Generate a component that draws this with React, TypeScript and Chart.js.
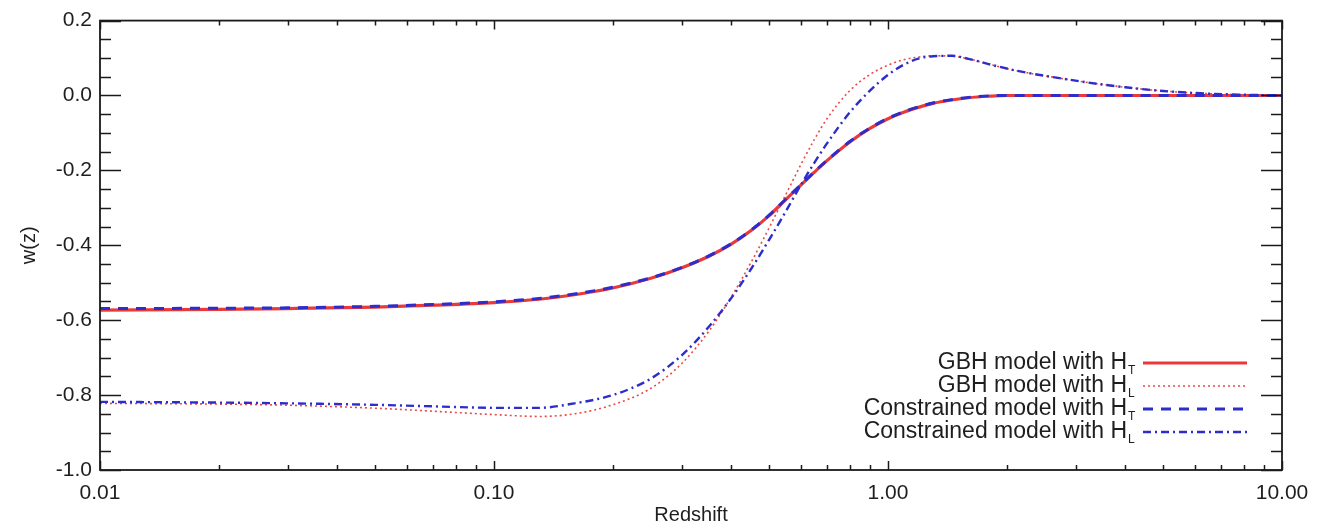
import React, { useEffect, useRef } from "react";
import { Chart, registerables } from "chart.js";

Chart.register(...registerables);

// ---- data ----
const redshift = [0.01, 0.02, 0.03, 0.05, 0.07, 0.1, 0.13, 0.16, 0.2, 0.25, 0.3, 0.35, 0.4, 0.45, 0.5, 0.55, 0.6, 0.65, 0.7, 0.8, 0.9, 1.0, 1.1, 1.2, 1.3, 1.45, 1.6, 1.8, 2.0, 2.3, 2.7, 3.2, 4.0, 5.0, 6.5, 8.0, 10.0];

const gbhHT = [-0.573, -0.571, -0.569, -0.565, -0.56, -0.553, -0.544, -0.532, -0.514, -0.488, -0.46, -0.43, -0.397, -0.36, -0.32, -0.278, -0.24, -0.205, -0.174, -0.124, -0.088, -0.062, -0.044, -0.031, -0.021, -0.012, -0.006, -0.002, 0.0, 0.0, 0.0, 0.0, 0.0, 0.0, 0.0, 0.0, 0.0];

const gbhHL = [-0.822, -0.824, -0.827, -0.835, -0.843, -0.852, -0.857, -0.85, -0.826, -0.782, -0.715, -0.631, -0.538, -0.444, -0.352, -0.265, -0.186, -0.118, -0.062, 0.013, 0.056, 0.081, 0.096, 0.103, 0.106, 0.105, 0.098, 0.084, 0.072, 0.059, 0.047, 0.035, 0.022, 0.012, 0.005, 0.002, 0.0];

const conHT = [-0.569, -0.568, -0.567, -0.563, -0.558, -0.551, -0.542, -0.53, -0.512, -0.487, -0.459, -0.429, -0.396, -0.359, -0.319, -0.277, -0.239, -0.204, -0.173, -0.123, -0.087, -0.061, -0.043, -0.03, -0.02, -0.011, -0.005, -0.001, 0.0, 0.0, 0.0, 0.0, 0.0, 0.0, 0.0, 0.0, 0.0];

const conHL = [-0.818, -0.82, -0.822, -0.826, -0.83, -0.834, -0.834, -0.822, -0.8, -0.756, -0.693, -0.619, -0.541, -0.462, -0.384, -0.31, -0.24, -0.18, -0.128, -0.045, 0.013, 0.055, 0.083, 0.099, 0.105, 0.106, 0.098, 0.084, 0.072, 0.059, 0.047, 0.035, 0.022, 0.012, 0.005, 0.002, 0.0];

const xTickValues = [0.01, 0.1, 1, 10];
const yTickValues = [-1.0, -0.8, -0.6, -0.4, -0.2, 0.0, 0.2];
const legendLabels = ["GBH model with H", "GBH model with H", "Constrained model with H", "Constrained model with H"];
const legendSubs = ["T", "L", "T", "L"];

const FONT = '"Liberation Sans", Arial, Helvetica, sans-serif';
const TEXT = "#1e1e1e";

const toPoints = (ys: number[]) => redshift.map((x, i) => ({ x, y: ys[i] }));

const framePlugin = {
  id: "frameTicks",
  afterDatasetsDraw(chart: any) {
    const { ctx, chartArea: a, scales } = chart;
    const xs = scales.x;
    const ys = scales.y;
    ctx.save();
    ctx.strokeStyle = "#1a1a1a";
    ctx.lineWidth = 1.8;
    ctx.setLineDash([]);
    ctx.strokeRect(a.left, a.top, a.right - a.left, a.bottom - a.top);
    ctx.lineWidth = 1.5;
    ctx.beginPath();
    const yMin = ys.min;
    const yMax = ys.max;
    for (let k = 0; k <= Math.round((yMax - yMin) / 0.05); k++) {
      const v = yMin + k * 0.05;
      const major = k % 4 === 0;
      const len = major ? 21 : 11;
      const py = Math.round(ys.getPixelForValue(v)) + 0.5;
      ctx.moveTo(a.left, py);
      ctx.lineTo(a.left + len, py);
      ctx.moveTo(a.right, py);
      ctx.lineTo(a.right - len, py);
    }
    for (let d = 0; d < xTickValues.length; d++) {
      const base = xTickValues[d];
      for (let m = 1; m <= 9; m++) {
        const v = base * m;
        if (v > xs.max * 1.0001) break;
        const major = m === 1;
        const len = major ? 9 : 5;
        const px = Math.round(xs.getPixelForValue(v)) + 0.5;
        ctx.moveTo(px, a.bottom);
        ctx.lineTo(px, a.bottom - len);
        ctx.moveTo(px, a.top);
        ctx.lineTo(px, a.top + len);
      }
    }
    ctx.stroke();
    ctx.restore();
  },
};

const legendPlugin = {
  id: "customLegend",
  afterDraw(chart: any) {
    const { ctx } = chart;
    const textRight = 1127;
    const lineStart = 1143;
    const lineEnd = 1247;
    const top = 363;
    const gap = 23;
    ctx.save();
    legendLabels.forEach((label, i) => {
      const ds = chart.data.datasets[i];
      const y = top + i * gap;
      ctx.fillStyle = TEXT;
      ctx.font = `23px ${FONT}`;
      ctx.textAlign = "right";
      ctx.textBaseline = "middle";
      ctx.fillText(label, textRight, y);
      ctx.font = `12px ${FONT}`;
      ctx.textAlign = "left";
      ctx.fillText(legendSubs[i], textRight + 1, y + 8);
      ctx.strokeStyle = ds.borderColor;
      ctx.lineWidth = ds.borderWidth;
      ctx.setLineDash(ds.borderDash || []);
      ctx.beginPath();
      ctx.moveTo(lineStart, y);
      ctx.lineTo(lineEnd, y);
      ctx.stroke();
    });
    ctx.restore();
  },
};

export default function App() {
  const ref = useRef<HTMLCanvasElement>(null);
  useEffect(() => {
    const canvas = ref.current;
    if (!canvas) return;
    const chart = new Chart(canvas, {
      type: "line",
      data: {
        datasets: [
          {
            label: "GBH model with H_T",
            data: toPoints(gbhHT),
            borderColor: "#e83a3a",
            borderWidth: 3.2,
            borderDash: [],
            order: 4,
          },
          {
            label: "GBH model with H_L",
            data: toPoints(gbhHL),
            borderColor: "#ea4848",
            borderWidth: 1.6,
            borderDash: [2, 3],
            order: 3,
          },
          {
            label: "Constrained model with H_T",
            data: toPoints(conHT),
            borderColor: "#2d2dcc",
            borderWidth: 3,
            borderDash: [10, 8],
            order: 2,
          },
          {
            label: "Constrained model with H_L",
            data: toPoints(conHL),
            borderColor: "#2d2dcc",
            borderWidth: 2.4,
            borderDash: [8, 4, 2, 4],
            order: 1,
          },
        ] as any,
      },
      options: {
        animation: false,
        responsive: false,
        devicePixelRatio: 1,
        layout: { padding: { top: 19, right: 55, bottom: 0, left: 0 } },
        elements: {
          point: { radius: 0, hoverRadius: 0 },
          line: { cubicInterpolationMode: "monotone", fill: false },
        },
        plugins: {
          legend: { display: false },
          tooltip: { enabled: false },
          title: { display: false },
        },
        scales: {
          x: {
            type: "logarithmic",
            min: 0.01,
            max: 10,
            afterBuildTicks: (scale: any) => {
              scale.ticks = xTickValues.map((v) => ({ value: v }));
            },
            afterFit: (scale: any) => {
              scale.height = 57;
            },
            grid: { display: false, drawTicks: false },
            border: { display: false },
            ticks: {
              autoSkip: false,
              maxRotation: 0,
              padding: 11,
              color: TEXT,
              font: { family: FONT, size: 21 },
              callback: (v: any) => Number(v).toFixed(2),
            },
            title: {
              display: true,
              text: "Redshift",
              color: TEXT,
              font: { family: FONT, size: 20 },
              padding: { top: 0, bottom: 0 },
            },
          },
          y: {
            type: "linear",
            min: -1.0,
            max: 0.2,
            afterBuildTicks: (scale: any) => {
              scale.ticks = yTickValues.map((v) => ({ value: v }));
            },
            afterFit: (scale: any) => {
              scale.width = 100;
            },
            grid: { display: false, drawTicks: false },
            border: { display: false },
            ticks: {
              autoSkip: false,
              padding: 8,
              color: TEXT,
              font: { family: FONT, size: 21 },
              callback: (v: any) => Number(v).toFixed(1),
            },
            title: {
              display: true,
              text: "w(z)",
              color: TEXT,
              font: { family: FONT, size: 20 },
              padding: { top: 17, bottom: 0 },
            },
          },
        },
      } as any,
      plugins: [framePlugin, legendPlugin],
    });
    return () => chart.destroy();
  }, []);
  return (
    <div style={{ position: "absolute", left: 0, top: 0, width: 1337, height: 527, background: "#fff" }}>
      <canvas ref={ref} width={1337} height={527} style={{ display: "block", width: 1337, height: 527 }} />
    </div>
  );
}
